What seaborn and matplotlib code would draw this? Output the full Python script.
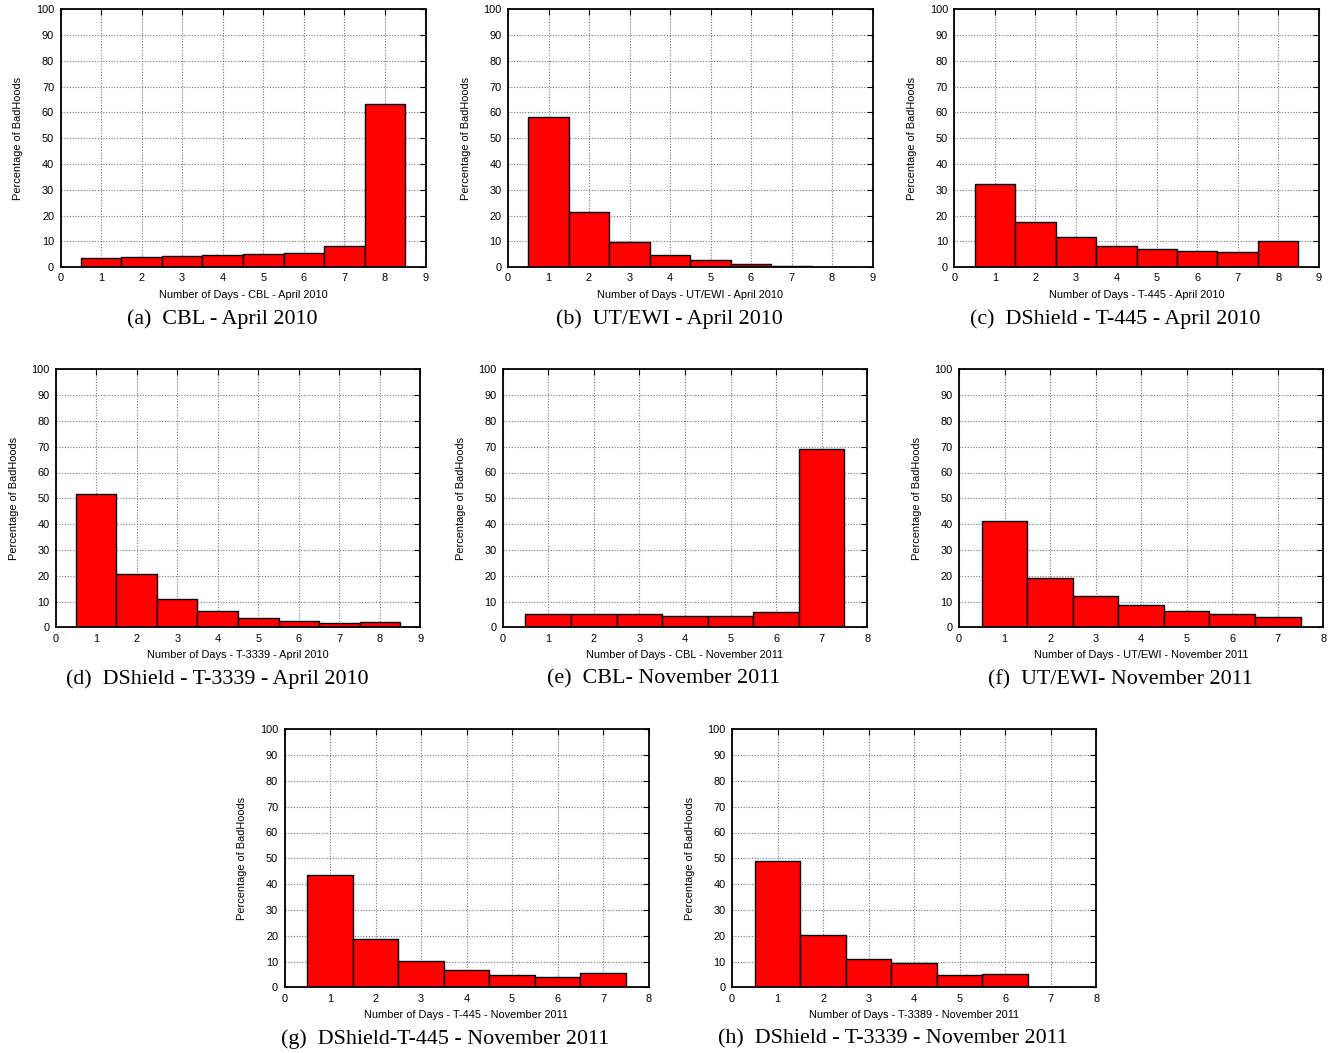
import matplotlib
matplotlib.use("Agg")
import matplotlib.pyplot as plt
import seaborn as sns
import pandas as pd

# ---- data ----
days8 = [1, 2, 3, 4, 5, 6, 7, 8]
days7 = [1, 2, 3, 4, 5, 6, 7]

cbl_apr2010 = [3.75, 3.9, 4.5, 4.9, 5.2, 5.6, 8.2, 63.3]
utewi_apr2010 = [58.3, 21.4, 9.8, 4.9, 2.6, 1.3, 0.5, 0.15]
t445_apr2010 = [32.1, 17.7, 11.6, 8.4, 6.9, 6.1, 6.0, 10.2]
t3339_apr2010 = [51.7, 20.5, 11.1, 6.3, 3.5, 2.6, 1.8, 2.1]
cbl_nov2011 = [5.2, 5.3, 5.2, 4.5, 4.5, 5.9, 69.0]
utewi_nov2011 = [41.3, 19.0, 12.1, 8.5, 6.5, 5.3, 4.1]
t445_nov2011 = [43.7, 18.6, 10.2, 6.7, 4.8, 3.9, 5.7]
t3339_nov2011 = [48.8, 20.4, 10.9, 9.6, 4.9, 5.0, 0.3]

xlabels = [
    "Number of Days - CBL - April 2010",
    "Number of Days - UT/EWI - April 2010",
    "Number of Days - T-445 - April 2010",
    "Number of Days - T-3339 - April 2010",
    "Number of Days - CBL - November 2011",
    "Number of Days - UT/EWI - November 2011",
    "Number of Days - T-445 - November 2011",
    "Number of Days - T-3389 - November 2011",
]
captions = [
    "(a)  CBL - April 2010",
    "(b)  UT/EWI - April 2010",
    "(c)  DShield - T-445 - April 2010",
    "(d)  DShield - T-3339 - April 2010",
    "(e)  CBL- November 2011",
    "(f)  UT/EWI- November 2011",
    "(g)  DShield-T-445 - November 2011",
    "(h)  DShield - T-3339 - November 2011",
]
ylabel = "Percentage of BadHoods"

series = [
    (days8, cbl_apr2010), (days8, utewi_apr2010), (days8, t445_apr2010),
    (days8, t3339_apr2010), (days7, cbl_nov2011), (days7, utewi_nov2011),
    (days7, t445_nov2011), (days7, t3339_nov2011),
]

# axes boxes in pixels: left, right, top, bottom
boxes = [
    (60.5, 425.5, 9.3, 267.2),
    (508, 872.5, 9.3, 267.2),
    (954.3, 1318.7, 9.3, 267.2),
    (55.7, 420.3, 369.3, 627.3),
    (502.7, 867.2, 369.3, 627.3),
    (959, 1323.3, 369.3, 627.3),
    (284.5, 648.5, 729.3, 987.3),
    (732, 1096.3, 729.3, 987.3),
]

sns.set_style("white")
plt.rcParams['font.family'] = ['Liberation Sans', 'DejaVu Sans']
plt.rcParams['text.color'] = 'black'
plt.rcParams['axes.labelcolor'] = 'black'
plt.rcParams['xtick.color'] = 'black'
plt.rcParams['ytick.color'] = 'black'

W, H = 1335, 1053
fig = plt.figure(figsize=(W / 100, H / 100), dpi=100)

for (x, y), (l, r, t, b), xl, cap in zip(series, boxes, xlabels, captions):
    ax = fig.add_axes([l / W, 1 - b / H, (r - l) / W, (b - t) / H])
    df = pd.DataFrame({"days": x, "pct": y})
    sns.histplot(data=df, x="days", weights="pct", discrete=True, ax=ax,
                 color="#ff0000", edgecolor="black", linewidth=1.0, alpha=1.0,
                 shrink=1.0, zorder=2)
    n = len(x)
    ax.set_xlim(0, n + 1)
    ax.set_ylim(0, 100)
    ax.set_xticks(range(0, n + 2))
    ax.set_yticks(range(0, 101, 10))
    ax.grid(True, linestyle=(0, (1, 1.5)), color="#777777", linewidth=0.8, zorder=0)
    ax.set_axisbelow(True)
    ax.tick_params(direction="in", length=4.5, width=0.8, top=True, right=True,
                   labelsize=7.9, pad=4.5, color="black", labelcolor="black")
    for s in ax.spines.values():
        s.set_visible(True)
        s.set_color("black")
        s.set_linewidth(1.3)
    ax.set_xlabel(xl, fontsize=7.9, labelpad=4.5, color="black")
    ax.set_ylabel(ylabel, fontsize=7.9, labelpad=9, color="black")
    cx = (l + r) / 2 - 21
    fig.text(cx / W, 1 - (b + 52) / H, cap, ha="center", va="center",
             fontsize=15.8, color="black", family=["Liberation Serif", "DejaVu Serif"])

fig.savefig("out.png", dpi=100, facecolor="white")
